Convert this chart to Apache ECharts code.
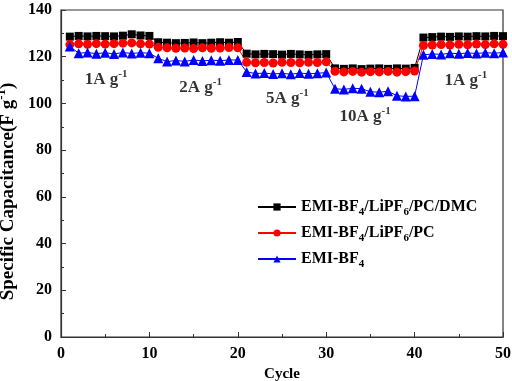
<!DOCTYPE html>
<html>
<head>
<meta charset="utf-8">
<script src="https://cdn.jsdelivr.net/npm/echarts@6/dist/echarts.min.js"></script>
<style>
  html, body { margin: 0; padding: 0; background: #fff; }
  #chart { width: 512px; height: 381px; }
</style>
</head>
<body>
<div id="chart"></div>
<script>
// cycle numbers 1..50
const cycles = [
  1, 2, 3, 4, 5, 6, 7, 8, 9, 10,
  11, 12, 13, 14, 15, 16, 17, 18, 19, 20,
  21, 22, 23, 24, 25, 26, 27, 28, 29, 30,
  31, 32, 33, 34, 35, 36, 37, 38, 39, 40,
  41, 42, 43, 44, 45, 46, 47, 48, 49, 50
];

// EMI-BF4/LiPF6/PC/DMC
const dmcValues = [
  128.6, 128.9, 128.7, 128.9, 128.8, 128.7, 129.0, 129.6, 129.1, 128.9,
  126.2, 126.0, 125.8, 125.9, 126.1, 125.8, 126.0, 126.2, 126.0, 126.3,
  121.3, 121.0, 121.2, 121.1, 120.9, 121.2, 121.0, 120.8, 121.0, 121.1,
  115.0, 114.8, 115.0, 114.7, 114.9, 115.0, 114.8, 115.0, 114.9, 115.2,
  128.2, 128.4, 128.6, 128.5, 128.7, 128.6, 128.8, 128.7, 128.9, 128.8
];

// EMI-BF4/LiPF6/PC
const pcValues = [
  125.2, 125.5, 125.3, 125.6, 125.4, 125.6, 125.8, 125.9, 125.5, 125.4,
  124.0, 123.8, 123.6, 123.7, 123.5, 123.8, 123.6, 123.7, 123.9, 123.8,
  117.6, 117.4, 117.5, 117.3, 117.6, 117.5, 117.4, 117.6, 117.5, 117.8,
  113.8, 113.5, 113.7, 113.4, 113.6, 113.5, 113.7, 113.4, 113.6, 113.9,
  124.8, 125.0, 125.2, 125.0, 125.3, 125.1, 125.4, 125.2, 125.5, 125.3
];

// EMI-BF4
const bf4Values = [
  124.4, 121.5, 121.8, 121.3, 121.7, 121.2, 121.8, 121.4, 121.7, 121.5,
  119.3, 117.9, 118.4, 118.0, 118.6, 118.2, 118.5, 118.3, 118.6, 118.6,
  113.5, 112.8, 113.0, 112.6, 112.9, 112.5, 113.0, 112.7, 112.9, 113.2,
  106.3, 106.0, 106.5, 106.3, 105.0, 104.8, 105.2, 103.3, 103.0, 103.1,
  120.8, 121.2, 121.0, 121.5, 121.3, 121.6, 121.4, 121.7, 121.5, 121.8
];

// current density annotations (cycle, capacitance)
const rateLabels = ['1A', '2A', '5A', '10A', '1A'];
const rateX = [5.1, 15.8, 25.6, 34.4, 45.8];
const rateY = [110, 106.6, 101.9, 94.2, 109.6];

const yTicks = [0, 20, 40, 60, 80, 100, 120, 140];
const xTicks = [0, 10, 20, 30, 40, 50];

const serif = '"Liberation Serif", "Times New Roman", serif';

const seriesNames = ['EMI-BF4/LiPF6/PC/DMC', 'EMI-BF4/LiPF6/PC', 'EMI-BF4'];
const legendRich = {
  'EMI-BF4/LiPF6/PC/DMC': 'EMI-BF{sub|4}/LiPF{sub|6}/PC/DMC',
  'EMI-BF4/LiPF6/PC': 'EMI-BF{sub|4}/LiPF{sub|6}/PC',
  'EMI-BF4': 'EMI-BF{sub|4}'
};

const chart = echarts.init(document.getElementById('chart'));

function lineSeries(name, values, color, symbol, size) {
  return {
    name: name,
    type: 'line',
    data: cycles.map((c, i) => [c, values[i]]),
    symbol: symbol,
    symbolSize: size,
    lineStyle: { color: color, width: 1 },
    itemStyle: { color: color },
    emphasis: { disabled: true },
    animation: false
  };
}

const option = {
  animation: false,
  grid: {
    left: 61, right: 9, top: 10, bottom: 44,
    outerBoundsMode: 'none',
    containLabel: false,
    show: true, borderColor: '#333', borderWidth: 1.2
  },
  legend: {
    data: seriesNames,
    orient: 'vertical',
    left: 252,
    top: 194,
    itemWidth: 38,
    itemHeight: 9,
    itemGap: 7,
    formatter: n => legendRich[n],
    textStyle: {
      fontFamily: serif, fontWeight: 'bold', fontSize: 16, color: '#000',
      rich: {
        sub: { fontFamily: serif, fontWeight: 'bold', fontSize: 11, padding: [11, 0, 0, 0] }
      }
    }
  },
  xAxis: {
    type: 'value',
    min: 0, max: 50, interval: 10,
    name: 'Cycle',
    nameLocation: 'middle',
    nameGap: 26,
    nameTextStyle: { fontFamily: serif, fontWeight: 'bold', fontSize: 15, color: '#000' },
    axisLine: { lineStyle: { color: '#333', width: 1.2 } },
    axisTick: { inside: true, length: 5, lineStyle: { color: '#333' } },
    minorTick: { show: true, splitNumber: 2, length: 3, lineStyle: { color: '#333' } },
    splitLine: { show: false },
    axisLabel: {
      fontFamily: serif, fontWeight: 'bold', fontSize: 16, color: '#000', margin: 9,
      customValues: xTicks
    }
  },
  yAxis: {
    type: 'value',
    min: 0, max: 140, interval: 20,
    name: 'Specific Capacitance(F g{sup|-1})',
    nameLocation: 'middle',
    nameGap: 18,
    nameTextStyle: {
      fontFamily: serif, fontWeight: 'bold', fontSize: 19, color: '#000',
      padding: [0, 36, 0, 0],
      rich: {
        sup: { fontFamily: serif, fontWeight: 'bold', fontSize: 13, padding: [0, 0, 12, 0] }
      }
    },
    axisLine: { lineStyle: { color: '#333', width: 1.2 } },
    axisTick: { inside: true, length: 5, lineStyle: { color: '#333' } },
    minorTick: { show: true, splitNumber: 2, length: 3, lineStyle: { color: '#333' } },
    splitLine: { show: false },
    axisLabel: {
      fontFamily: serif, fontWeight: 'bold', fontSize: 16, color: '#000', margin: 9,
      customValues: yTicks
    }
  },
  series: [
    lineSeries(seriesNames[0], dmcValues, '#000000', 'rect', 8),
    lineSeries(seriesNames[1], pcValues, '#ff0000', 'circle', 9),
    lineSeries(seriesNames[2], bf4Values, '#0000ff', 'triangle', 10),
    {
      type: 'scatter',
      name: 'rates',
      symbolSize: 0,
      silent: true,
      data: rateX.map((x, i) => [x, rateY[i], rateLabels[i]]),
      label: {
        show: true,
        position: 'inside',
        formatter: p => p.value[2] + ' g{sup|-1}',
        fontFamily: serif, fontWeight: 'bold', fontSize: 17, color: '#000',
        rich: {
          sup: { fontFamily: serif, fontWeight: 'bold', fontSize: 11, padding: [0, 0, 11, 0] }
        }
      }
    }
  ]
};

chart.setOption(option);
</script>
</body>
</html>
